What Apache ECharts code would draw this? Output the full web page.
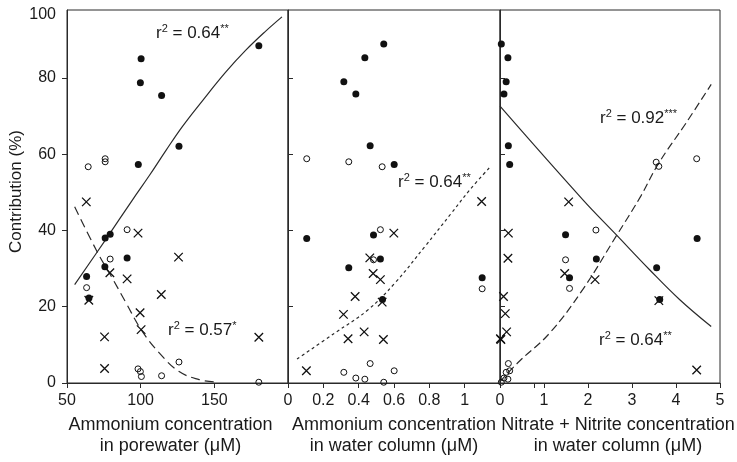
<!DOCTYPE html>
<html>
<head>
<meta charset="utf-8">
<script src="https://cdn.jsdelivr.net/npm/echarts@6/dist/echarts.min.js"></script>
<style>html,body{margin:0;padding:0;background:#fff}#c{width:737px;height:462px}</style>
</head>
<body>
<div id="c"></div>
<script>
// ---- tick values / labels ----
const yTicks = [0, 20, 40, 60, 80];
const yTopLabel = '100';
const x1Ticks = [50, 100, 150];
const x2Ticks = [0, 0.2, 0.4, 0.6, 0.8, 1];
const x3Ticks = [0, 1, 2, 3, 4, 5];
const x3BreakTick = 0.77;

const xTitle1 = 'Ammonium concentration\nin porewater (\u03bcM)';
const xTitle2 = 'Ammonium concentration\nin water column (\u03bcM)';
const xTitle3 = 'Nitrate + Nitrite concentration\nin water column (\u03bcM)';
const yTitle = 'Contribution (%)';

// ---- panel 1: ammonium in porewater ----
const p1Filled = [[100.3,85.0],[99.8,78.7],[114.2,75.4],[126.0,62.1],[98.4,57.3],[180.2,88.4],[63.3,27.9],[64.9,22.3],[75.9,38.0],[79.3,39.0],[75.7,30.5],[90.8,32.8]];
const p1Open = [[64.4,56.7],[75.9,58.8],[75.9,58.0],[90.8,40.2],[79.3,32.5],[63.3,25.0],[98.2,3.7],[99.8,3.0],[100.5,1.7],[114.2,1.9],[126.0,5.5],[180.2,0.2]];
const p1Cross = [[63.1,47.5],[98.2,39.3],[125.7,33.0],[79.1,28.9],[90.8,27.3],[64.8,21.7],[114.0,23.2],[99.6,18.4],[100.3,14.0],[75.5,12.1],[75.5,3.8],[180.2,12.0]];
const p1FitFilled = [[55.2,25.8],[76.6,37.8],[94.6,48.1],[105.9,54.4],[117.2,61.0],[128.4,67.3],[141.9,74.0],[157.7,81.5],[171.2,87.2],[184.7,92.2],[195.9,96.0]];
const p1FitOpen = [[55.2,46.2],[70.9,34.1],[80,28],[90.1,21],[100.3,14],[112.6,7.9],[126.1,3.0],[139.7,0.9],[149.8,0.3]];

// ---- panel 2: ammonium in water column ----
const p2Filled = [[0.542,88.9],[0.435,85.3],[0.316,79.0],[0.384,75.8],[0.465,62.2],[0.601,57.3],[0.106,37.9],[0.484,38.8],[0.523,32.5],[0.344,30.2],[0.535,21.9],[1.099,27.6]];
const p2Open = [[0.106,58.8],[0.344,58.0],[0.533,56.7],[0.523,40.2],[0.484,32.3],[1.099,24.7],[0.465,5.1],[0.316,2.8],[0.384,1.3],[0.435,1.0],[0.601,3.2],[0.542,0.2]];
const p2Cross = [[1.096,47.6],[0.599,39.3],[0.463,32.8],[0.482,28.7],[0.523,27.1],[0.380,22.7],[0.533,21.2],[0.314,18.0],[0.431,13.4],[0.340,11.6],[0.540,11.4],[0.104,3.2]];
const p2Fit = [[0.051,6.3],[0.265,13.1],[0.453,19.2],[0.605,26.2],[0.775,35.8],[0.926,44.6],[1.03,50.7],[1.147,56.8]];

// ---- panel 3: nitrate + nitrite in water column ----
const p3Filled = [[0.03,88.9],[0.18,85.3],[0.14,79.0],[0.09,75.8],[0.19,62.2],[0.22,57.3],[1.49,38.9],[2.19,32.5],[3.56,30.2],[1.58,27.6],[3.63,21.9],[4.48,37.9]];
const p3Open = [[3.55,57.9],[3.61,56.8],[4.47,58.8],[2.18,40.1],[1.49,32.3],[1.58,24.8],[0.19,5.1],[0.14,2.8],[0.09,1.3],[0.18,1.0],[0.22,3.2],[0.03,0.2]];
const p3Cross = [[1.56,47.5],[0.19,39.3],[0.18,32.7],[1.47,28.7],[2.16,27.1],[0.08,22.7],[3.61,21.6],[0.12,18.2],[0.15,13.4],[0.01,11.6],[0.02,11.4],[4.47,3.4]];
const p3FitFilled = [[0,72.6],[1.88,48.1],[2.64,38.9],[3.4,29.7],[4.08,21.9],[4.8,14.8]];
const p3FitOpen = [[0,0.4],[0.44,5.7],[1.13,13.1],[1.88,24.5],[2.64,38.5],[3.2,49.0],[3.6,57.5],[4.23,68.2],[4.8,78.3]];

// ---- r² annotations ----
const r2Texts = [['0.64','**'],['0.57','*'],['0.64','**'],['0.92','***'],['0.64','**']];

const FONT = 'Liberation Sans, Arial, sans-serif';
const INK = '#1a1a1a';
const LINE = '#2a2a2a';
const Y_MAX = 97.8;

const chart = echarts.init(document.getElementById('c'), null, {renderer:'canvas'});

const gridTop = 10, gridH = 373;
const grids = [
  {left:67, top:gridTop, width:221, height:gridH},
  {left:288, top:gridTop, width:212, height:gridH},
  {left:500, top:gridTop, width:220, height:gridH}
].map(g => Object.assign(g, {show:true, borderColor:LINE, borderWidth:1, backgroundColor:'transparent', containLabel:false, outerBoundsMode:'none'}));

function xAxis(i, min, max, interval, labelVals, tickVals, title, pad){
  return {
    type:'value', gridIndex:i, min, max, interval,
    axisLine:{show:true, onZero:false, lineStyle:{color:LINE, width:1}},
    axisTick:{show:true, inside:false, length:5, lineStyle:{color:LINE}, customValues:tickVals},
    axisLabel:{show:true, color:INK, fontSize:16, fontFamily:FONT, margin:10, customValues:labelVals,
      formatter:v => String(v)},
    splitLine:{show:false},
    name:title, nameLocation:'middle', nameGap:32,
    nameTextStyle:{color:INK, fontSize:18, fontFamily:FONT, lineHeight:21, padding:pad}
  };
}
function yAxis(i, first){
  return {
    type:'value', gridIndex:i, min:0, max:Y_MAX,
    axisLine:{show:true, onZero:false, lineStyle:{color:LINE, width:1}},
    axisTick:{show:true, inside:!first, length:5, lineStyle:{color:LINE}, customValues: first ? yTicks : yTicks.slice(1)},
    axisLabel:{show:first, color:INK, fontSize:16, fontFamily:FONT, margin:11,
      customValues: yTicks.concat([Y_MAX]),
      formatter:v => (v === Y_MAX ? '{t|' + yTopLabel + '}' : String(v)),
      rich:{t:{fontSize:16, fontFamily:FONT, color:INK, padding:[10,0,0,0]}}},
    splitLine:{show:false},
    name: first ? yTitle : '', nameLocation:'middle', nameGap:42, nameRotate:90,
    nameTextStyle:{color:INK, fontSize:17, fontFamily:FONT, padding:[0,0,0,10]}
  };
}

const crossPath = 'path://M0,0L10,10M10,0L0,10';
function pts(i, data, kind){
  const base = {type:'scatter', xAxisIndex:i, yAxisIndex:i, data, z:5, silent:true, animation:false};
  if(kind==='filled') return Object.assign(base,{symbol:'circle', symbolSize:7, itemStyle:{color:'#111', opacity:1}});
  if(kind==='open') return Object.assign(base,{symbol:'circle', symbolSize:6, itemStyle:{color:'rgba(255,255,255,0)', borderColor:'#111', borderWidth:1, opacity:1}});
  return Object.assign(base,{symbol:crossPath, symbolSize:8.5, itemStyle:{color:'none', borderColor:'#111', borderWidth:1.3, opacity:1}});
}
function fit(i, data, dash){
  return {type:'line', xAxisIndex:i, yAxisIndex:i, data, smooth:0.4, showSymbol:false, symbol:'none', z:3, silent:true, animation:false,
    lineStyle:{color:LINE, width:1.2, type:dash}};
}

function r2(x, y, idx){
  const [v, s] = r2Texts[idx];
  return {type:'text', x, y, z:10, silent:true,
    style:{text:'{b|r}{s|2}{b| = ' + v + '}{s|' + s + '}', textVerticalAlign:'middle', textAlign:'left',
      rich:{b:{fontSize:17, fontFamily:FONT, fill:INK, lineHeight:20},
            s:{fontSize:11, fontFamily:FONT, fill:INK, lineHeight:9, verticalAlign:'top'}}}};
}

chart.setOption({
  animation:false,
  backgroundColor:'#fff',
  grid: grids,
  xAxis:[
    xAxis(0, 50, 200, 50, x1Ticks, x1Ticks.concat([200]), xTitle1, [0,14,0,0]),
    xAxis(1, 0, 1.2, 0.2, x2Ticks, x2Ticks.concat([1.2]), xTitle2, [0,0,0,0]),
    xAxis(2, 0, 5, 1, x3Ticks, x3Ticks.concat([x3BreakTick]), xTitle3, [0,0,0,16])
  ],
  yAxis:[yAxis(0,true), yAxis(1,false), yAxis(2,false)],
  series:[
    fit(0, p1FitFilled, 'solid'),
    fit(0, p1FitOpen, [9,5]),
    pts(0, p1Filled, 'filled'), pts(0, p1Open, 'open'), pts(0, p1Cross, 'cross'),
    fit(1, p2Fit, [3,3]),
    pts(1, p2Filled, 'filled'), pts(1, p2Open, 'open'), pts(1, p2Cross, 'cross'),
    fit(2, p3FitFilled, 'solid'),
    fit(2, p3FitOpen, [8,4]),
    pts(2, p3Filled, 'filled'), pts(2, p3Open, 'open'), pts(2, p3Cross, 'cross')
  ],
  graphic:[
    r2(156, 33, 0),
    r2(168, 330, 1),
    r2(398, 182, 2),
    r2(600, 118, 3),
    r2(599, 340, 4)
  ]
});
</script>
</body>
</html>
